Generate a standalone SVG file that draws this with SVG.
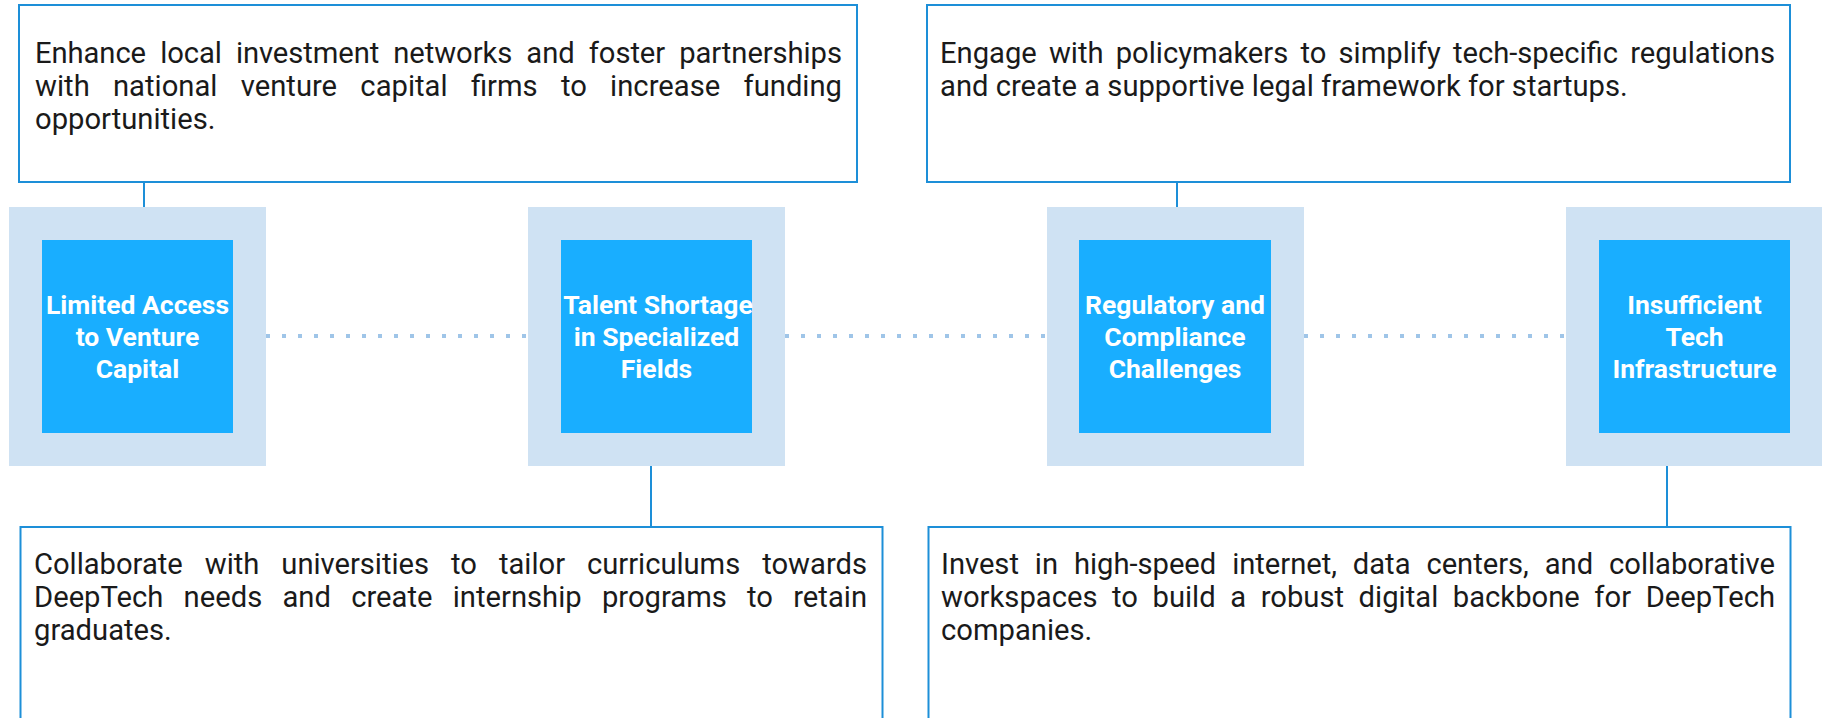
<svg xmlns="http://www.w3.org/2000/svg" width="1822" height="718" viewBox="0 0 1822 718">
<style>
.box{fill:#ffffff;stroke:#1d8fd8;stroke-width:2}
.outer{fill:#cfe2f3}
.inner{fill:#19aeff}
.lbl{font-family:Roboto,"Liberation Sans",sans-serif;font-weight:bold;font-size:26.5px;fill:#ffffff;text-anchor:middle}
.body{font-family:Roboto,"Liberation Sans",sans-serif;font-size:29.2px;fill:#1a1a1a}
.link{stroke:#1d8fd8;stroke-width:2;fill:none}
.dots{stroke:#9fc5e8;stroke-width:4;stroke-dasharray:4 12;fill:none}
</style>
<rect width="1822" height="718" fill="#ffffff"/>
<g id="connectors">
<line class="link" x1="144" y1="182" x2="144" y2="207"/>
<line class="link" x1="651" y1="466" x2="651" y2="527"/>
<line class="link" x1="1177" y1="182" x2="1177" y2="207"/>
<line class="link" x1="1667" y1="466" x2="1667" y2="527"/>
<line class="dots" x1="266" y1="336" x2="528" y2="336"/>
<line class="dots" x1="785" y1="336" x2="1047" y2="336"/>
<line class="dots" x1="1304" y1="336" x2="1566" y2="336"/>
</g>
<g id="note-vc">
<rect class="box" x="19" y="5" width="838" height="177"/>
<text class="body"><tspan x="35" y="62.5" word-spacing="7" textLength="807" lengthAdjust="spacing">Enhance local investment networks and foster partnerships</tspan></text>
<text class="body"><tspan x="35" y="96" word-spacing="16" textLength="807" lengthAdjust="spacing">with national venture capital firms to increase funding</tspan></text>
<text class="body" x="35" y="129">opportunities.</text>
</g>
<g id="note-reg">
<rect class="box" x="927" y="5" width="863" height="177"/>
<text class="body"><tspan x="940" y="62.5" word-spacing="5" textLength="835" lengthAdjust="spacing">Engage with policymakers to simplify tech-specific regulations</tspan></text>
<text class="body" x="940" y="96">and create a supportive legal framework for startups.</text>
</g>
<g id="note-talent">
<rect class="box" x="20.5" y="527" width="862" height="220"/>
<text class="body"><tspan x="34" y="574" word-spacing="14.8" textLength="833" lengthAdjust="spacing">Collaborate with universities to tailor curriculums towards</tspan></text>
<text class="body"><tspan x="34" y="607" word-spacing="13" textLength="833" lengthAdjust="spacing">DeepTech needs and create internship programs to retain</tspan></text>
<text class="body" x="34" y="639.5">graduates.</text>
</g>
<g id="note-infra">
<rect class="box" x="928.5" y="527" width="862" height="220"/>
<text class="body"><tspan x="941" y="574" word-spacing="8.7" textLength="834" lengthAdjust="spacing">Invest in high-speed internet, data centers, and collaborative</tspan></text>
<text class="body"><tspan x="941" y="607" word-spacing="7.3" textLength="834" lengthAdjust="spacing">workspaces to build a robust digital backbone for DeepTech</tspan></text>
<text class="body" x="941" y="639.5">companies.</text>
</g>
<g id="node-vc">
<rect class="outer" x="9" y="207" width="257" height="259"/>
<rect class="inner" x="42" y="240" width="191" height="193"/>
<text class="lbl" x="137.5" y="313.5">Limited Access</text>
<text class="lbl" x="137.5" y="345.5">to Venture</text>
<text class="lbl" x="137.5" y="377.5">Capital</text>
</g>
<g id="node-talent">
<rect class="outer" x="528" y="207" width="257" height="259"/>
<rect class="inner" x="561" y="240" width="191" height="193"/>
<text class="lbl" x="658" y="313.5">Talent Shortage</text>
<text class="lbl" x="656.5" y="345.5">in Specialized</text>
<text class="lbl" x="656.5" y="377.5">Fields</text>
</g>
<g id="node-reg">
<rect class="outer" x="1047" y="207" width="257" height="259"/>
<rect class="inner" x="1079" y="240" width="192" height="193"/>
<text class="lbl" x="1175" y="313.5">Regulatory and</text>
<text class="lbl" x="1175" y="345.5">Compliance</text>
<text class="lbl" x="1175" y="377.5">Challenges</text>
</g>
<g id="node-infra">
<rect class="outer" x="1566" y="207" width="257" height="259"/>
<rect class="inner" x="1599" y="240" width="191" height="193"/>
<text class="lbl" x="1694.5" y="313.5">Insufficient</text>
<text class="lbl" x="1694.5" y="345.5">Tech</text>
<text class="lbl" x="1694.5" y="377.5">Infrastructure</text>
</g>
</svg>
